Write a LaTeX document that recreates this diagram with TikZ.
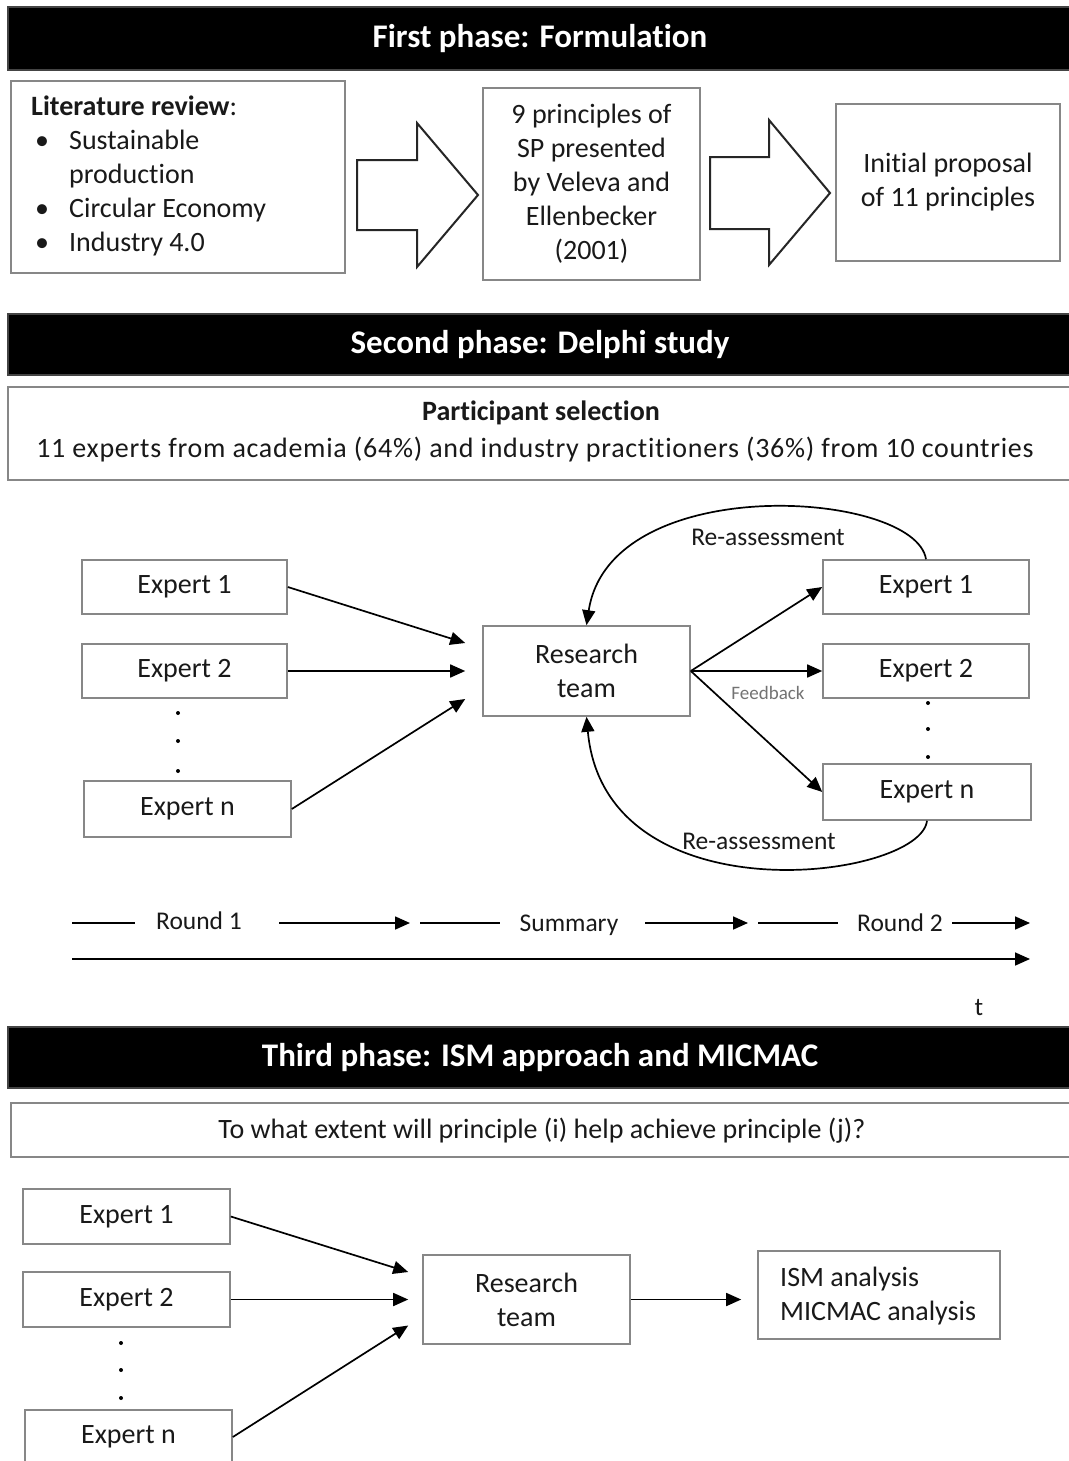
\documentclass[tikz,border=0pt]{standalone}
\usepackage{fontspec}
\setmainfont{Carlito}[Ligatures=NoCommon]
\usetikzlibrary{arrows.meta,calc}
\definecolor{boxgray}{RGB}{135,135,135}
\definecolor{txt}{RGB}{25,25,25}
\begin{document}
\begin{tikzpicture}[x=1pt,y=-1pt,
  box/.style={draw=boxgray,line width=1.6pt,fill=white,inner sep=0pt,text=txt,font=\fontsize{28}{34}\selectfont,align=center},
  header/.style={draw=boxgray!50!black,line width=1.5pt,fill=black,text=white,font=\bfseries\fontsize{33}{40}\selectfont,inner sep=0pt},
  arr/.style={line width=1.7pt,-{Triangle[length=15pt,width=13pt]}},
  tline/.style={line width=1.6pt},
  bigarrow/.style={draw=black!85,line width=2pt,fill=white,line join=miter},
  lbl/.style={inner sep=0pt,text=txt,font=\fontsize{25.5}{30}\selectfont},
  plain/.style={inner sep=0pt,text=txt,font=\fontsize{28}{34}\selectfont},
  dotmark/.style={circle,fill=black,inner sep=0pt,minimum size=4pt}
]
\useasboundingbox[fill=white] (0,0) rectangle (1068,1461);

% ---------------- First phase
\node[header,minimum width=1064pt,minimum height=63pt] (h1) at (540,38.5) {First phase: Formulation};
\node[box,minimum width=334pt,minimum height=192pt] (lit) at (178,177) {};
\node[plain,anchor=west,align=left] (littxt) at (31,176) {%
\textbf{Literature review}:\\
\hspace*{4pt}\makebox[34pt][l]{\textbullet}Sustainable\\
\hspace*{38pt}production\\
\hspace*{4pt}\makebox[34pt][l]{\textbullet}Circular Economy\\
\hspace*{4pt}\makebox[34pt][l]{\textbullet}Industry 4.0};
\draw[bigarrow] (357,160) -- (417,160) -- (417,123) -- (478,195) -- (417,267) -- (417,230) -- (357,230) -- cycle;
\node[box,minimum width=217pt,minimum height=192pt] (p9) at (591.5,184) {9 principles of\\SP presented\\by Veleva and\\Ellenbecker\\(2001)};
\draw[bigarrow] (710,157) -- (769,157) -- (769,120) -- (830,193) -- (769,265) -- (769,229) -- (710,229) -- cycle;
\node[box,minimum width=224pt,minimum height=157pt] (init) at (948,182.5) {Initial proposal\\of 11 principles};

% ---------------- Second phase
\node[header,minimum width=1064pt,minimum height=61pt] (h2) at (540,344.5) {Second phase: Delphi study};
\node[box,minimum width=1064pt,minimum height=93pt] (part) at (540,433.5) {};
\node[plain,font=\bfseries\fontsize{28}{34}\selectfont] (parthd) at (541,413) {Participant selection};
\node[plain,font=\fontsize{28}{34}\selectfont\addfontfeatures{LetterSpace=2.6}] (parttxt) at (535,450) {11 experts from academia (64\%) and industry practitioners (36\%) from 10 countries};

\node[box,minimum width=205pt,minimum height=54pt] (E1L) at (184.5,587) {Expert 1};
\node[box,minimum width=205pt,minimum height=54pt] (E2L) at (184.5,671) {Expert 2};
\node[box,minimum width=207pt,minimum height=56pt] (EnL) at (187.5,809) {Expert n};
\node[dotmark] (dl1) at (178,713) {};
\node[dotmark] (dl2) at (178,741) {};
\node[dotmark] (dl3) at (178,771) {};

\node[box,minimum width=207pt,minimum height=90pt] (RT) at (586.5,671) {Research\\team};

\node[box,minimum width=206pt,minimum height=54pt] (E1R) at (926,587) {Expert 1};
\node[box,minimum width=206pt,minimum height=54pt] (E2R) at (926,671) {Expert 2};
\node[box,minimum width=208pt,minimum height=56pt] (EnR) at (927,792) {Expert n};
\node[dotmark] (dr1) at (928,703) {};
\node[dotmark] (dr2) at (928,729) {};
\node[dotmark] (dr3) at (928,757) {};

\draw[arr] (E1L.east) -- ([xshift=-17pt,yshift=28pt]RT.west);
\draw[arr] (E2L.east) -- ([xshift=-17pt]RT.west);
\draw[arr] (EnL.east) -- ([xshift=-17pt,yshift=-28pt]RT.west);

\draw[arr] (RT.east) -- (E1R.west);
\draw[arr] (RT.east) -- (E2R.west);
\draw[arr] (RT.east) -- (EnR.west);
\node[inner sep=0pt,text=black!55,font=\fontsize{19}{22}\selectfont] (fb) at (768,693) {Feedback};

\draw[arr] (E1R.north) .. controls (915,490) and (610,470) .. (RT.north);
\node[lbl] (ra1) at (768,537) {Re-assessment};
\draw[arr] (EnR.south) .. controls (920,880) and (605,920) .. (RT.south);
\node[lbl] (ra2) at (759,841) {Re-assessment};

% timeline
\coordinate (a1) at (72,923);  \coordinate (a2) at (135,923);
\coordinate (a3) at (279,923); \coordinate (a4) at (410,923);
\coordinate (b1) at (420,923); \coordinate (b2) at (500,923);
\coordinate (b3) at (645,923); \coordinate (b4) at (748,923);
\coordinate (c1) at (758,923); \coordinate (c2) at (838,923);
\coordinate (c3) at (952,923); \coordinate (c4) at (1030,923);
\coordinate (t1) at (72,959);  \coordinate (t2) at (1030,959);
\node[lbl] (rd1) at (199,921) {Round 1};
\node[lbl] (summ) at (569,925) {Summary};
\node[lbl] (rd2) at (900,923) {Round 2};
\draw[tline] (a1) -- (a2);
\draw[arr] (a3) -- (a4);
\draw[tline] (b1) -- (b2);
\draw[arr] (b3) -- (b4);
\draw[tline] (c1) -- (c2);
\draw[arr] (c3) -- (c4);
\draw[arr] (t1) -- (t2);
\node[lbl] (tlab) at (979,1008) {t};

% ---------------- Third phase
\node[header,minimum width=1064pt,minimum height=61pt] (h3) at (540,1057.5) {Third phase: ISM approach and MICMAC};
\node[box,minimum width=1061pt,minimum height=54pt] (q) at (541.5,1130) {};
\node[plain] (qtxt) at (542,1131) {To what extent will principle (i) help achieve principle (j)?};

\node[box,minimum width=207pt,minimum height=55pt] (B1) at (126.5,1216.5) {Expert 1};
\node[box,minimum width=207pt,minimum height=55pt] (B2) at (126.5,1299.5) {Expert 2};
\node[box,minimum width=207pt,minimum height=54pt] (Bn) at (128.5,1437) {Expert n};
\node[dotmark] (db1) at (121,1343) {};
\node[dotmark] (db2) at (121,1370) {};
\node[dotmark] (db3) at (121,1398) {};

\node[box,minimum width=207pt,minimum height=89pt] (BRT) at (526.5,1299.5) {Research\\team};
\node[box,minimum width=242pt,minimum height=88pt] (ISM) at (879,1295) {};
\node[plain,anchor=west,align=left] (ismtxt) at (780,1296) {ISM analysis\\MICMAC analysis};

\draw[arr] (B1.east) -- ([xshift=-14pt,yshift=27.5pt]BRT.west);
\draw[arr] (B2.east) -- ([xshift=-14pt]BRT.west);
\draw[arr] (Bn.east) -- ([xshift=-14pt,yshift=-26pt]BRT.west);
\draw[arr,shorten >=16pt] (BRT.east) -- (BRT.east -| ISM.west);
\end{tikzpicture}
\end{document}
